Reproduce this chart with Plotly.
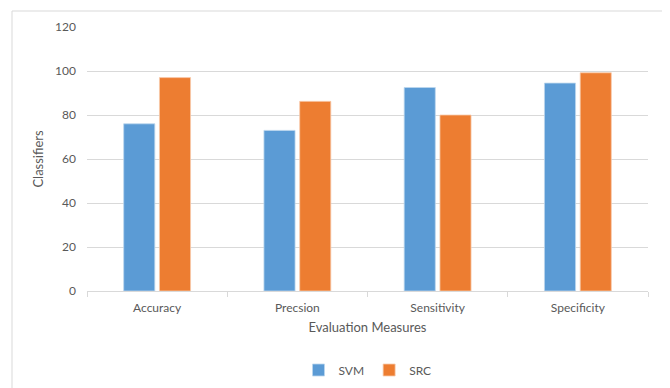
import plotly.graph_objects as go

categories = ["Accuracy", "Precsion", "Sensitivity", "Specificity"]
svm_values = [76, 73, 92.5, 94.5]
src_values = [97, 86.2, 80, 99.2]
y_ticks = [0, 20, 40, 60, 80, 100, 120]

FONT = "Lato, Open Sans, sans-serif"
GRAY = "#595959"

fig = go.Figure()
fig.add_trace(go.Bar(name="SVM", x=categories, y=svm_values,
                     marker=dict(color="#5B9BD5", line=dict(color="#BDD7EE", width=0.8))))
fig.add_trace(go.Bar(name="SRC", x=categories, y=src_values,
                     marker=dict(color="#ED7D31", line=dict(color="#F8CBAD", width=0.8))))

# page body has an 8px offset, so figure coordinates = window coordinates - 8
OFF = 8
W, H = 670 - OFF, 388 - OFF
L, T = 87 - OFF, 27 - OFF
R = W - (648 - OFF)
B = H - (291 - OFF)
pw = W - L - R
ph = H - T - B

def px_x(x):
    return (x - 87) / pw

def px_y(y):
    return (291 - y) / ph

fig.update_layout(
    width=W, height=H,
    margin=dict(l=L, r=R, t=T, b=B, autoexpand=False),
    paper_bgcolor="white", plot_bgcolor="white",
    barmode="group", bargap=0.49, bargroupgap=0.13,
    font=dict(family=FONT, size=12, color=GRAY),
    showlegend=True,
    legend=dict(orientation="h", x=0.5, xanchor="center",
                y=px_y(370), yanchor="middle",
                font=dict(size=12, color=GRAY), itemwidth=30,
                traceorder="normal", tracegroupgap=0),
    xaxis=dict(
        automargin=False,
        showline=True, linecolor="#D9D9D9", linewidth=1,
        ticks="outside", tickson="boundaries", ticklen=5, tickcolor="#D9D9D9",
        showgrid=False,
        tickfont=dict(size=12, color=GRAY),
        ticklabelstandoff=6,
        title=dict(text="Evaluation Measures", font=dict(size=13, color=GRAY), standoff=8),
    ),
    yaxis=dict(
        automargin=False,
        range=[0, 120], tickvals=y_ticks,
        showgrid=True, gridcolor="#D9D9D9", gridwidth=1,
        zeroline=False, showline=False,
        tickfont=dict(size=12, color=GRAY),
        ticklabelstandoff=10,
        title=dict(text="Classifiers", font=dict(size=13, color=GRAY), standoff=8),
    ),
    shapes=[dict(type="rect", xref="paper", yref="paper",
                 x0=px_x(12), x1=px_x(665),
                 y0=px_y(420), y1=px_y(11),
                 line=dict(color="#D9D9D9", width=1), layer="below")],
)

fig.write_html("out.html")
